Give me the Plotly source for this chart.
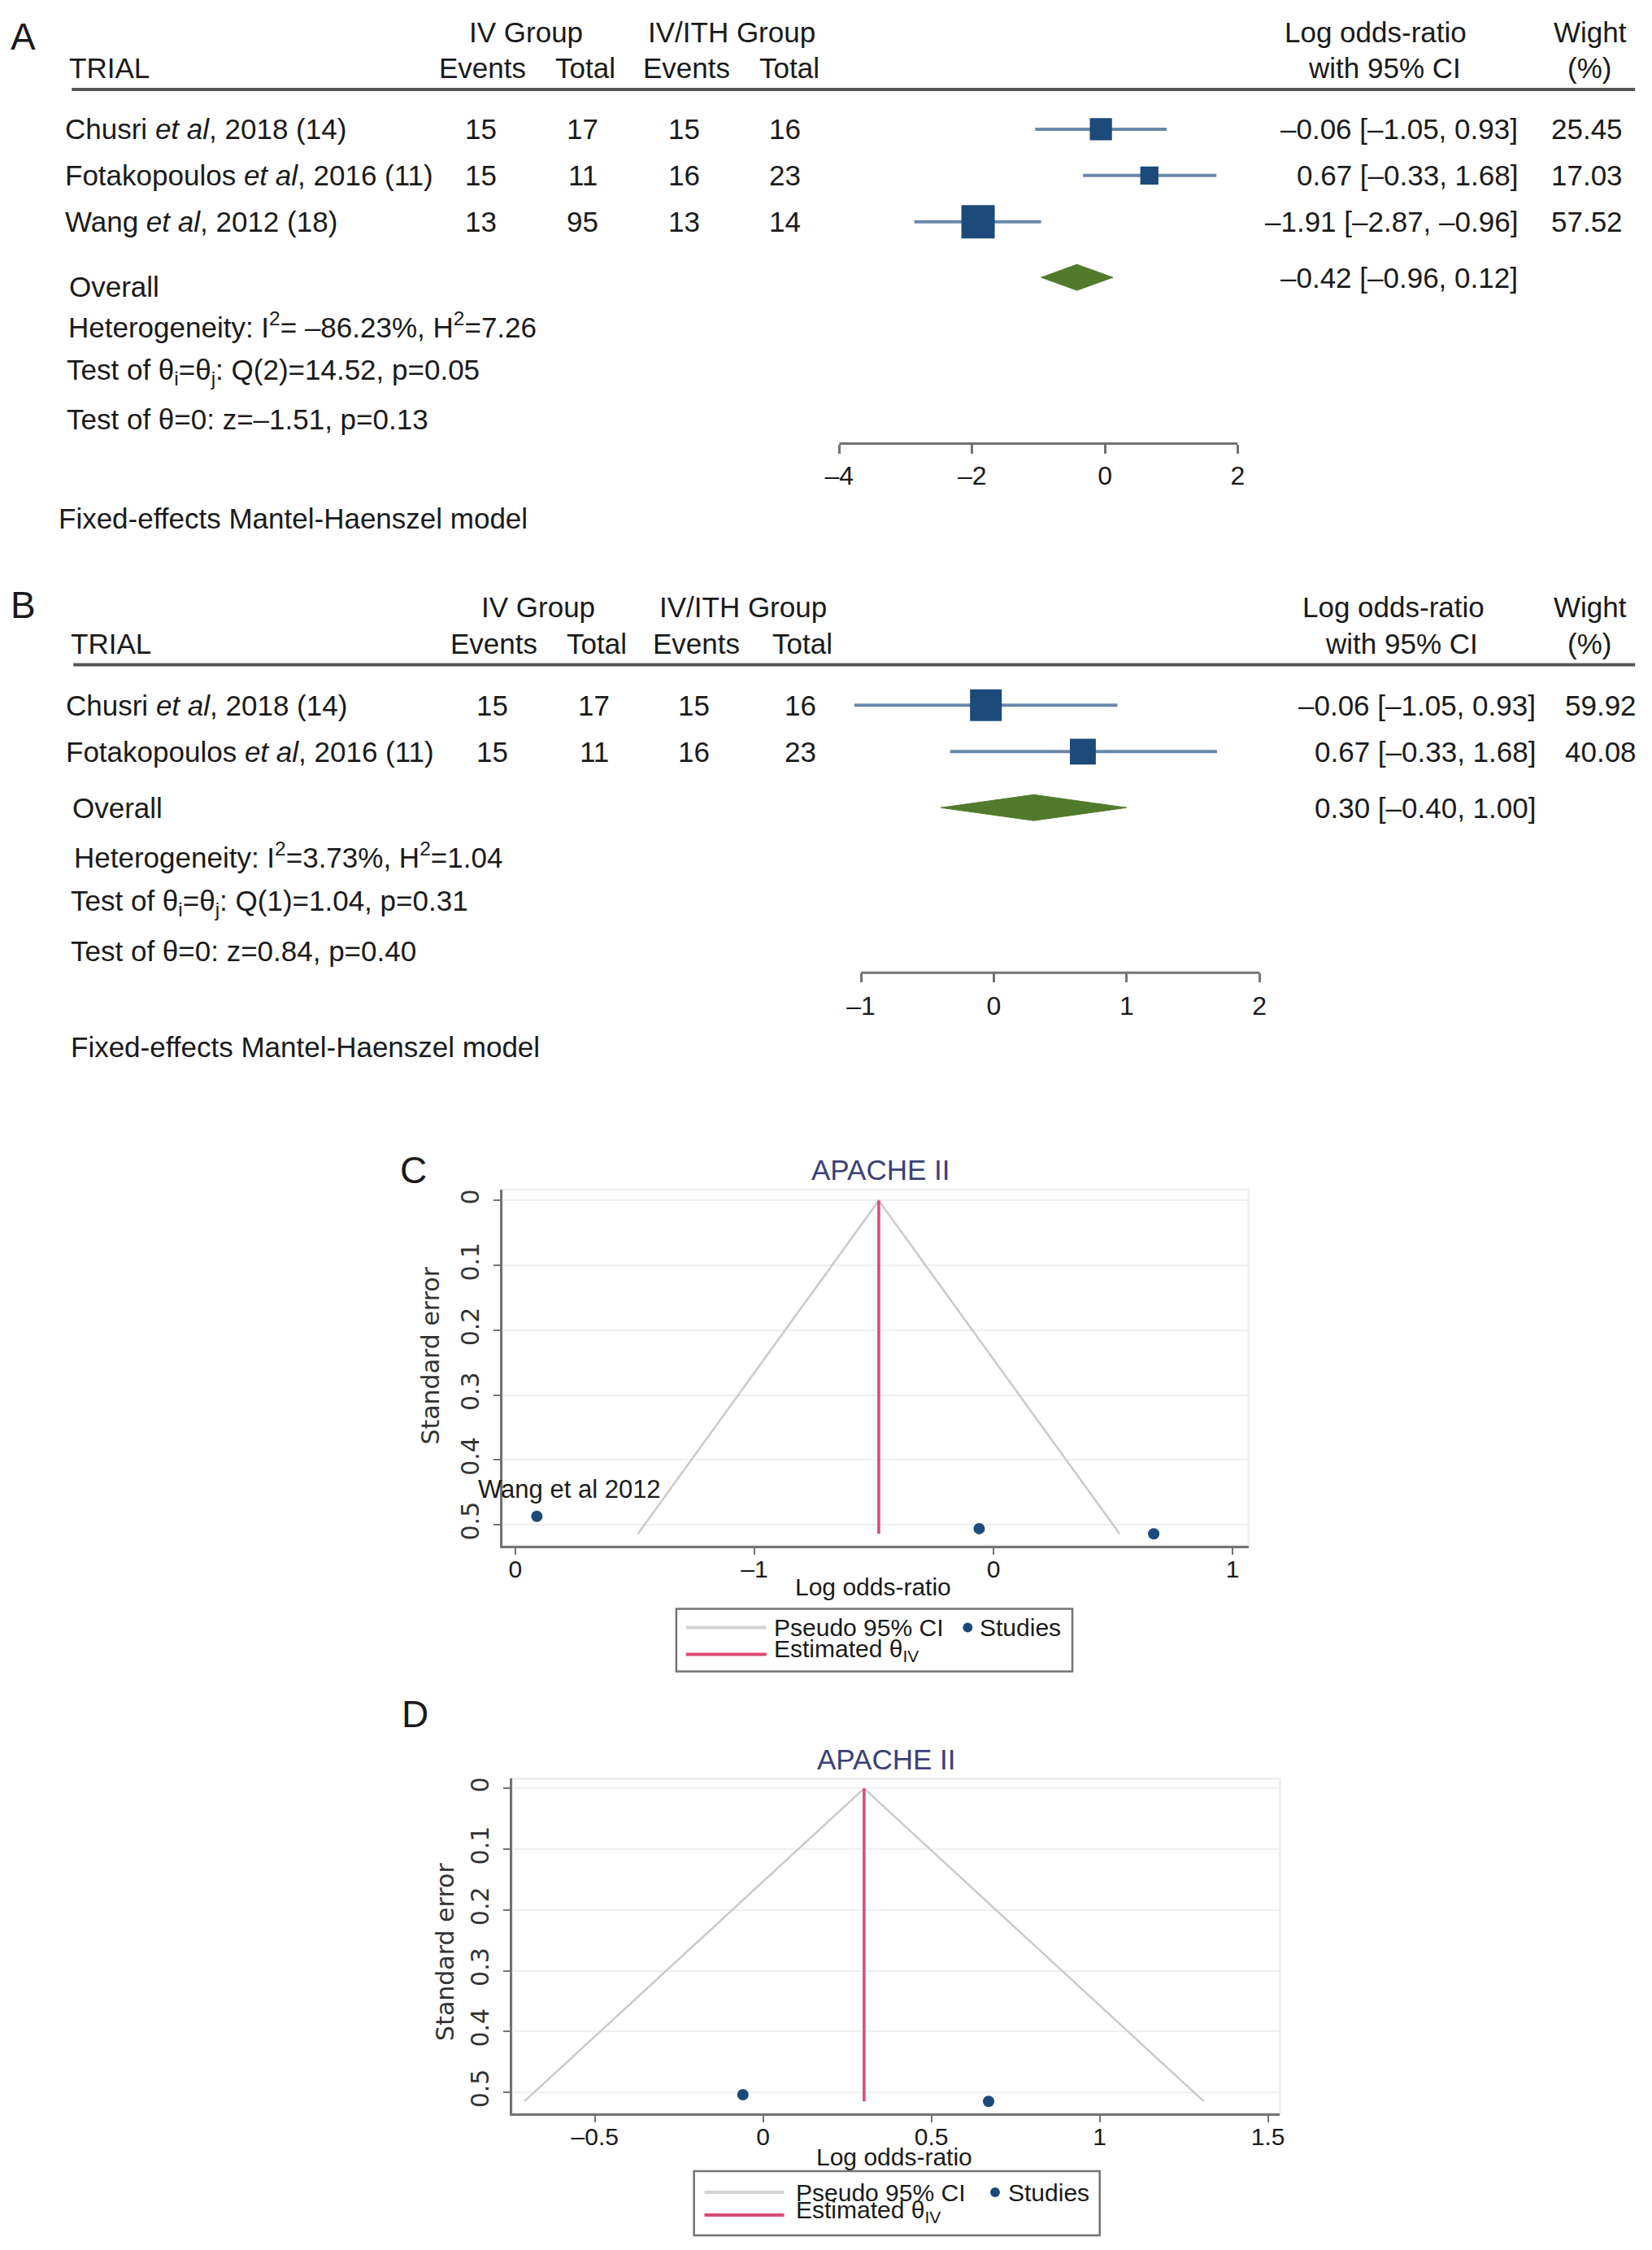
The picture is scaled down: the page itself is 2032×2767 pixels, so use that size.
import plotly.graph_objects as go

W, H = 2032, 2767
ARIAL = "Liberation Sans, Arial, sans-serif"
DEJAVU = "DejaVu Sans, Verdana, sans-serif"

# ---------------- data : panel A ----------------
trials_A = ["Chusri <i>et al</i>, 2018 (14)",
            "Fotakopoulos <i>et al</i>, 2016 (11)",
            "Wang <i>et al</i>, 2012 (18)"]
iv_events_A = [15, 15, 13]
iv_total_A = [17, 11, 95]
ith_events_A = [15, 16, 13]
ith_total_A = [16, 23, 14]
lor_A = [-0.06, 0.67, -1.91]
lo_A = [-1.05, -0.33, -2.87]
hi_A = [0.93, 1.68, -0.96]
weight_A = [25.45, 17.03, 57.52]
overall_A = [-0.42, -0.96, 0.12]
stats_A = ["Heterogeneity: I<sup>2</sup>= –86.23%, H<sup>2</sup>=7.26",
           "Test of θ<sub>i</sub>=θ<sub>j</sub>: Q(2)=14.52, p=0.05",
           "Test of θ=0: z=–1.51, p=0.13"]
ticks_A = [-4, -2, 0, 2]

# ---------------- data : panel B ----------------
trials_B = ["Chusri <i>et al</i>, 2018 (14)",
            "Fotakopoulos <i>et al</i>, 2016 (11)"]
iv_events_B = [15, 15]
iv_total_B = [17, 11]
ith_events_B = [15, 16]
ith_total_B = [16, 23]
lor_B = [-0.06, 0.67]
lo_B = [-1.05, -0.33]
hi_B = [0.93, 1.68]
weight_B = [59.92, 40.08]
overall_B = [0.30, -0.40, 1.00]
stats_B = ["Heterogeneity: I<sup>2</sup>=3.73%, H<sup>2</sup>=1.04",
           "Test of θ<sub>i</sub>=θ<sub>j</sub>: Q(1)=1.04, p=0.31",
           "Test of θ=0: z=0.84, p=0.40"]
ticks_B = [-1, 0, 1, 2]

# ---------------- data : funnel plots ----------------
funnel_C_lor = [-0.06, 0.67, -1.91]
funnel_C_se = [0.506, 0.514, 0.487]
funnel_C_names = ["Chusri et al 2018", "Fotakopoulos et al 2016", "Wang et al 2012"]
theta_C = -0.48
xticks_C = [-2, -1, 0, 1]
xticktext_C = ["0", "–1", "0", "1"]

funnel_D_lor = [-0.06, 0.67]
funnel_D_se = [0.504, 0.515]
theta_D = 0.30
xticks_D = [-0.5, 0, 0.5, 1, 1.5]
xticktext_D = ["–0.5", "0", "0.5", "1", "1.5"]
se_ticks = [0, 0.1, 0.2, 0.3, 0.4, 0.5]

# ---------------- style ----------------
NAVY = "#1c4a7a"
CI_COL = "#6a88a8"
GREEN = "#527a2c"
RED = "#d94a70"
FUNNEL_GRAY = "#cacaca"
AXIS_GRAY = "#737373"
TXT = "#1a1a1a"
TITLE_COL = "#3c4177"
FS = 35
ANCHOR_FIX = {"left": -14, "center": -6, "right": 7}


def px(x):
    return x / W


def py(y):
    return 1 - y / H


def fmt(v):
    return f"{v:.2f}".replace("-", "–")


def tick_fmt(v):
    return f"{v:g}".replace("-", "–")


annotations = []
shapes = []
fig = go.Figure()


def txt(x, y, s, size=FS, anchor="left", family=ARIAL, color=TXT,
        xref="paper", yref="paper", angle=0, yanchor="middle", xshift=0, yshift=0):
    annotations.append(dict(x=x, y=y, text=s, showarrow=False, xanchor=anchor,
                            yanchor=yanchor, xref=xref, yref=yref, textangle=angle,
                            xshift=xshift + ANCHOR_FIX[anchor], yshift=yshift,
                            font=dict(family=family, size=size, color=color)))


def forest(ax, trials, ev1, tot1, ev2, tot2, lor, lo, hi, w, overall, stats, ticks,
           cfg):
    xa = "x" if ax == 1 else f"x{ax}"
    ya = "y" if ax == 1 else f"y{ax}"
    n = len(trials)
    rows = list(range(n))
    # CI lines
    xs, ys = [], []
    for r, a, b in zip(rows, lo, hi):
        xs += [a, b, None]
        ys += [r, r, None]
    fig.add_trace(go.Scatter(x=xs, y=ys, mode="lines", xaxis=xa, yaxis=ya,
                             line=dict(color=CI_COL, width=4), showlegend=False,
                             hoverinfo="skip"))
    # overall diamond
    est, olo, ohi = overall
    ro = cfg["overall_row"]
    hh = cfg["dh"]
    fig.add_trace(go.Scatter(x=[olo, est, ohi, est, olo], y=[ro, ro - hh, ro, ro + hh, ro],
                             mode="lines", fill="toself", fillcolor=GREEN,
                             line=dict(color=GREEN, width=1), xaxis=xa, yaxis=ya,
                             showlegend=False, hoverinfo="skip"))
    wmax = max(w)
    sizes = [cfg["maxsize"] * (v / wmax) ** 0.5 for v in w]
    fig.add_trace(go.Scatter(x=lor, y=rows, mode="markers", xaxis=xa, yaxis=ya,
                             marker=dict(symbol="square", size=sizes, color=NAVY,
                                         opacity=1, line=dict(width=0)),
                             opacity=1, showlegend=False))
    # axis line between extreme ticks
    shapes.append(dict(type="line", xref=xa, yref="paper", x0=ticks[0], x1=ticks[-1],
                       y0=py(cfg["axis_y"]), y1=py(cfg["axis_y"]),
                       line=dict(color=AXIS_GRAY, width=3)))
    # header line
    shapes.append(dict(type="line", xref="paper", yref="paper", x0=px(cfg["hl_x0"]),
                       x1=px(2017), y0=py(cfg["hl_y"]), y1=py(cfg["hl_y"]),
                       line=dict(color="#555555", width=4)))
    # header texts
    txt(px(cfg["letter_x"]), py(cfg["letter_y"]), cfg["letter"], size=46, anchor="center")
    txt(px(cfg["g1"]), py(cfg["gy"]), "IV Group", anchor="center")
    txt(px(cfg["g2"]), py(cfg["gy"]), "IV/ITH Group", anchor="center")
    txt(px(cfg["trial_x"]), py(cfg["hy"]), "TRIAL")
    for cx, lab in zip(cfg["cols_h"], ["Events", "Total", "Events", "Total"]):
        txt(px(cx), py(cfg["hy"]), lab, anchor="center")
    txt(px(cfg["lor_x"]), py(cfg["gy"]), "Log odds-ratio", anchor="center")
    txt(px(cfg["ci_x"]), py(cfg["hy"]), "with 95% CI", anchor="center")
    txt(px(1967), py(cfg["gy"]), "Wight", anchor="center")
    txt(px(1966), py(cfg["hy"]), "(%)", anchor="center")
    # rows
    for i in range(n):
        txt(px(cfg["name_x"]), rows[i], trials[i], yref=ya)
        for cx, val in zip(cfg["cols"], [ev1[i], tot1[i], ev2[i], tot2[i]]):
            txt(px(cx), rows[i], str(val), yref=ya, anchor="center")
        txt(px(cfg["ci_right"]), rows[i], f"{fmt(lor[i])} [{fmt(lo[i])}, {fmt(hi[i])}]",
            yref=ya, anchor="right")
        txt(px(cfg["w_right"]), rows[i], f"{w[i]:.2f}", yref=ya, anchor="right")
    txt(px(cfg["overall_x"]), cfg["overall_label_row"], "Overall", yref=ya)
    txt(px(cfg["ci_right"]), ro, f"{fmt(est)} [{fmt(olo)}, {fmt(ohi)}]", yref=ya,
        anchor="right")
    for (sx, sy), s in zip(cfg["stats_pos"], stats):
        txt(px(sx), py(sy), s)
    txt(px(cfg["fe_x"]), py(cfg["fe_y"]), "Fixed-effects Mantel-Haenszel model")

    # axes
    z, u = cfg["zero"], cfg["unit"]
    xr = cfg["xrange"]
    dom = [px(z + xr[0] * u), px(z + xr[1] * u)]
    r0, pitch = cfg["row0"], cfg["pitch"]
    top, bot = cfg["hl_y"], cfg["axis_y"]
    yr = [(bot - r0) / pitch, (top - r0) / pitch]
    fig.update_layout(**{
        ("xaxis" if ax == 1 else f"xaxis{ax}"): dict(
            domain=dom, range=xr, anchor=ya, showline=False, showgrid=False,
            zeroline=False, ticks="outside", ticklen=11, tickwidth=3,
            tickcolor=AXIS_GRAY, tickvals=ticks, ticktext=[tick_fmt(t) for t in ticks],
            tickfont=dict(family=ARIAL, size=32, color=TXT),
            ticklabelstandoff=cfg["standoff"]),
        ("yaxis" if ax == 1 else f"yaxis{ax}"): dict(
            domain=[py(bot), py(top)], range=yr, anchor=xa, visible=False,
            showgrid=False, zeroline=False),
    })


cfgA = dict(letter="A", letter_x=21, letter_y=43, g1=645, g2=901, gy=38, hy=82,
            trial_x=84, cols_h=[591, 719, 845, 973], cols=[589, 716, 842, 967],
            lor_x=1701, ci_x=1712, name_x=79, ci_right=1866, w_right=1997,
            overall_x=84, overall_row=3.2, overall_label_row=3.4,
            stats_pos=[(83, 398), (81, 455), (81, 514)], fe_x=71, fe_y=636,
            hl_x0=75, hl_y=108, axis_y=544, row0=157, pitch=57,
            zero=1358.4, unit=82.48, xrange=[-4.05, 2.05], maxsize=41, dh=0.28,
            standoff=0)
cfgB = dict(letter="B", letter_x=21, letter_y=743, g1=660, g2=915, gy=745, hy=790,
            trial_x=86, cols_h=[605, 733, 857, 989], cols=[603, 730, 854, 986],
            lor_x=1723, ci_x=1733, name_x=80, ci_right=1889, w_right=2014,
            overall_x=88, overall_row=2.21, overall_label_row=2.21,
            stats_pos=[(90, 1051), (86, 1109), (86, 1168)], fe_x=86, fe_y=1286,
            hl_x0=77, hl_y=816, axis_y=1195, row0=866, pitch=57,
            zero=1220.5, unit=165.0, xrange=[-1.1, 2.05], maxsize=39, dh=0.28,
            standoff=1)

forest(1, trials_A, iv_events_A, iv_total_A, ith_events_A, ith_total_A, lor_A, lo_A,
       hi_A, weight_A, overall_A, stats_A, ticks_A, cfgA)
forest(2, trials_B, iv_events_B, iv_total_B, ith_events_B, ith_total_B, lor_B, lo_B,
       hi_B, weight_B, overall_B, stats_B, ticks_B, cfgB)


def funnel(ax, lor, se, theta, xticks, xticktext, cfg):
    xa, ya = f"x{ax}", f"y{ax}"
    semax = max(se)
    fig.add_trace(go.Scatter(x=[theta - 1.96 * semax, theta, theta + 1.96 * semax],
                             y=[semax, 0, semax], mode="lines", xaxis=xa, yaxis=ya,
                             line=dict(color=FUNNEL_GRAY, width=2.5), showlegend=False,
                             hoverinfo="skip"))
    fig.add_trace(go.Scatter(x=[theta, theta], y=[0, semax], mode="lines", xaxis=xa,
                             yaxis=ya, line=dict(color=RED, width=3.5), showlegend=False,
                             hoverinfo="skip"))
    fig.add_trace(go.Scatter(x=lor, y=se, mode="markers", xaxis=xa, yaxis=ya,
                             marker=dict(color=NAVY, size=14, opacity=1), showlegend=False))
    x0, x1, y0, y1 = cfg["box"]
    fig.update_layout(**{
        f"xaxis{ax}": dict(domain=[px(x0), px(x1)], range=cfg["xrange"], anchor=ya,
                           showline=True, linecolor=AXIS_GRAY, linewidth=3,
                           ticks="outside", ticklen=8, tickwidth=2, tickcolor=AXIS_GRAY,
                           tickvals=xticks, ticktext=xticktext, showgrid=False,
                           zeroline=False, ticklabelstandoff=-8,
                           tickfont=dict(family=ARIAL, size=30, color=TXT)),
        f"yaxis{ax}": dict(domain=[py(y1), py(y0)], range=cfg["yrange"], anchor=xa,
                           showline=True, linecolor=AXIS_GRAY, linewidth=3,
                           ticks="outside", ticklen=8, tickwidth=2, tickcolor=AXIS_GRAY,
                           tickvals=se_ticks, ticktext=[f"{t:g}" for t in se_ticks],
                           tickangle=-90, showgrid=True, gridcolor="#efefef",
                           gridwidth=2, zeroline=False, ticklabelstandoff=6,
                           tickfont=dict(family=DEJAVU, size=30, color="#333333")),
    })
    # faint plot-region frame
    shapes.append(dict(type="rect", xref=f"{xa} domain", yref=f"{ya} domain", x0=0, x1=1,
                       y0=0, y1=1, layer="below", line=dict(color="#f0f0f0", width=3)))
    txt(px(cfg["letter_x"]), py(cfg["letter_y"]), cfg["letter"], size=46, anchor="center")
    txt(px(cfg["title_x"]), py(cfg["title_y"]), "APACHE II", size=35, anchor="center",
        color=TITLE_COL)
    txt(px(cfg["ytitle_x"]), py(cfg["ytitle_y"]), "Standard error", size=30,
        family=DEJAVU, anchor="center", angle=-90, color="#333333")
    txt(px(cfg["xtitle_x"]), py(cfg["xtitle_y"]), "Log odds-ratio", size=30,
        anchor="center")
    # legend
    lx0, ly0, lx1, ly1 = cfg["legend"]
    shapes.append(dict(type="rect", xref="paper", yref="paper", x0=px(lx0), x1=px(lx1),
                       y0=py(ly1), y1=py(ly0), fillcolor="white",
                       line=dict(color=AXIS_GRAY, width=2.5)))
    r1, r2 = cfg["leg_rows"]
    sx0, sx1 = cfg["sample"]
    shapes.append(dict(type="line", xref="paper", yref="paper", x0=px(sx0), x1=px(sx1),
                       y0=py(r1), y1=py(r1), line=dict(color="#d4d4d4", width=4)))
    shapes.append(dict(type="line", xref="paper", yref="paper", x0=px(sx0), x1=px(sx1),
                       y0=py(r2), y1=py(r2), line=dict(color=RED, width=4)))
    mx = cfg["marker_x"]
    shapes.append(dict(type="circle", xref="paper", yref="paper", x0=px(mx - 6),
                       x1=px(mx + 6), y0=py(r1 + 6), y1=py(r1 - 6), fillcolor=NAVY,
                       line=dict(width=0)))
    txt(px(cfg["leg_text_x"]), py(r1), "Pseudo 95% CI", size=30, xshift=10)
    txt(px(cfg["studies_x"]), py(r1), "Studies", size=30, xshift=12)
    txt(px(cfg["leg_text_x"]), py(r2 - 5), "Estimated θ<sub>IV</sub>", size=30, xshift=10)


cfgC = dict(letter="C", letter_x=505, letter_y=1438, title_x=1086, title_y=1438,
            box=(610, 1537, 1462, 1900), xrange=[-2.054, 1.067], yrange=[0.532, -0.017],
            ytitle_x=527, ytitle_y=1666, xtitle_x=1077, xtitle_y=1951,
            legend=(826, 1978, 1318, 2055), leg_rows=(2001, 2034), sample=(838, 938),
            marker_x=1188, leg_text_x=949, studies_x=1203)
cfgD = dict(letter="D", letter_x=507, letter_y=2108, title_x=1093, title_y=2163,
            box=(622, 1576, 2187, 2599), xrange=[-0.746, 1.536], yrange=[0.535, -0.016],
            ytitle_x=545, ytitle_y=2400, xtitle_x=1103, xtitle_y=2652,
            legend=(848, 2670, 1352, 2749), leg_rows=(2696, 2724), sample=(861, 960),
            marker_x=1222, leg_text_x=977, studies_x=1238)

funnel(3, funnel_C_lor, funnel_C_se, theta_C, xticks_C, xticktext_C, cfgC)
funnel(4, funnel_D_lor, funnel_D_se, theta_D, xticks_D, xticktext_D, cfgD)

# label for Wang et al 2012 in panel C
wi = funnel_C_names.index("Wang et al 2012")
txt(funnel_C_lor[wi], funnel_C_se[wi], "Wang et al 2012", size=31, xref="x3", yref="y3",
    xshift=-60, yshift=33)

fig.update_layout(width=W, height=H, margin=dict(l=0, r=0, t=0, b=0),
                  paper_bgcolor="white", plot_bgcolor="white",
                  annotations=annotations, shapes=shapes, showlegend=False,
                  font=dict(family=ARIAL, color=TXT))

fig.write_html("out.html", config={"displayModeBar": False},
               post_script="document.body.style.margin='0';document.body.style.overflow='hidden';")
